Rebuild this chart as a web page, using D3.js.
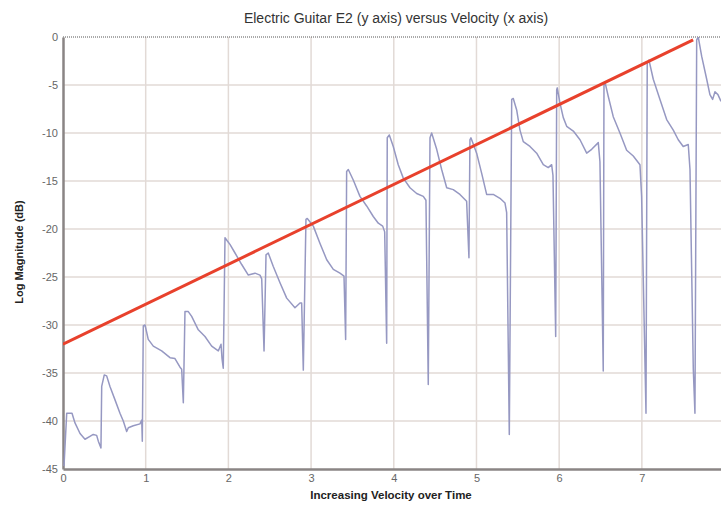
<!DOCTYPE html>
<html>
<head>
<meta charset="utf-8">
<script src="https://cdn.jsdelivr.net/npm/d3@7"></script>
<style>
  body { margin: 0; background: #fff; }
  svg { display: block; font-family: "Liberation Sans", Arial, sans-serif; }
</style>
</head>
<body>
<div id="chart"></div>
<script>
/** Data */

var velocity = [
  0.012, 0.045, 0.109, 0.145, 0.206, 0.266, 0.326, 0.366, 0.407, 0.427, 0.459,
  0.468, 0.499, 0.528, 0.568, 0.629, 0.689, 0.729, 0.770, 0.790, 0.850, 0.931, 0.952, 0.959,
  0.971, 0.992, 1.031, 1.092, 1.193, 1.294, 1.354, 1.415, 1.435, 1.455,
  1.475, 1.515, 1.556, 1.636, 1.717, 1.798, 1.878, 1.911, 1.923, 1.938,
  1.959, 1.983, 2.019, 2.080, 2.161, 2.241, 2.322, 2.382, 2.403, 2.431,
  2.455, 2.482, 2.543, 2.624, 2.705, 2.805, 2.866, 2.886, 2.906,
  2.938, 2.954, 3.027, 3.108, 3.189, 3.269, 3.349, 3.398, 3.418,
  3.430, 3.450, 3.510, 3.591, 3.672, 3.752, 3.813, 3.866, 3.890, 3.914,
  3.921, 3.946, 3.994, 4.054, 4.115, 4.196, 4.277, 4.357, 4.389, 4.417,
  4.438, 4.458, 4.519, 4.579, 4.640, 4.719, 4.800, 4.881, 4.909,
  4.921, 4.933, 5.002, 5.063, 5.123, 5.203, 5.284, 5.345, 5.365, 5.397,
  5.426, 5.445, 5.486, 5.526, 5.566, 5.647, 5.728, 5.808, 5.868, 5.909, 5.925, 5.958,
  5.970, 5.977, 6.010, 6.050, 6.091, 6.171, 6.252, 6.333, 6.393, 6.473, 6.493, 6.533,
  6.542, 6.557, 6.594, 6.654, 6.735, 6.816, 6.896, 6.977, 6.997, 7.050,
  7.065, 7.086, 7.138, 7.219, 7.300, 7.380, 7.440, 7.500, 7.561, 7.582, 7.622, 7.642,
  7.663, 7.682, 7.723, 7.784, 7.823, 7.856, 7.884, 7.920, 7.957
];

var magnitudeDb = [
  -44.7, -39.2, -39.2, -40.2, -41.3, -41.9, -41.6, -41.4, -41.5, -42.1, -42.8,
  -36.4, -35.2, -35.3, -36.4, -37.8, -39.2, -40.0, -41.1, -40.7, -40.5, -40.3, -39.9, -42.1,
  -30.1, -30.0, -31.5, -32.2, -32.7, -33.4, -33.5, -34.4, -34.6, -38.1,
  -28.6, -28.6, -29.1, -30.5, -31.2, -32.2, -32.7, -32.0, -33.5, -34.5,
  -20.9, -21.2, -21.6, -22.5, -23.7, -24.8, -24.6, -24.8, -25.2, -32.7,
  -22.7, -22.5, -23.9, -25.6, -27.2, -28.2, -27.7, -27.7, -34.7,
  -19.0, -18.9, -19.7, -21.5, -23.2, -24.2, -24.6, -24.9, -31.5,
  -14.0, -13.8, -14.9, -16.6, -17.6, -18.7, -19.4, -19.7, -20.3, -31.9,
  -10.5, -10.2, -11.4, -13.3, -14.7, -15.7, -16.3, -16.6, -17.0, -36.2,
  -10.5, -10.0, -11.7, -13.8, -15.7, -15.9, -16.4, -17.1, -23.0,
  -10.7, -10.5, -12.1, -14.2, -16.4, -16.4, -16.8, -17.3, -18.3, -41.4,
  -6.5, -6.4, -7.6, -9.7, -10.9, -11.4, -12.1, -13.3, -13.6, -13.3, -14.4, -31.2,
  -5.5, -5.3, -6.9, -8.4, -9.3, -9.8, -10.7, -12.1, -11.7, -11.0, -13.0, -34.8,
  -5.0, -4.8, -6.2, -8.3, -10.0, -11.8, -12.4, -13.3, -16.6, -39.2,
  -2.7, -2.4, -4.4, -6.5, -8.6, -9.7, -10.7, -11.4, -11.2, -13.8, -34.6, -39.2,
  -0.3, 0.0, -2.0, -4.4, -6.0, -6.5, -5.7, -6.0, -6.7
];

// trend line (red)
var trendVelocity = [0, 7.62];
var trendDb = [-32, -0.3];

var xTicks = [0, 1, 2, 3, 4, 5, 6, 7];
var yTicks = [0, -5, -10, -15, -20, -25, -30, -35, -40, -45];

var titleText = "Electric Guitar E2 (y axis) versus Velocity (x axis)";
var xLabel = "Increasing Velocity over Time";
var yLabel = "Log Magnitude (dB)";

/** Layout */

var W = 721, H = 505;
var margin = {top: 37, right: 0, bottom: 36, left: 63};
var width = W - margin.left - margin.right;
var height = H - margin.top - margin.bottom;

var svg = d3.select("#chart").append("svg")
  .attr("width", W)
  .attr("height", H);

var g = svg.append("g")
  .attr("transform", "translate(" + margin.left + "," + margin.top + ")");

var x = d3.scaleLinear().domain([0, 7.957]).range([0, width]);
var y = d3.scaleLinear().domain([-45, 0]).range([height, 0]);

// grid
g.append("g")
  .selectAll("line")
  .data(xTicks.filter(function(d) { return d > 0; }))
  .enter().append("line")
    .attr("x1", function(d) { return x(d); })
    .attr("x2", function(d) { return x(d); })
    .attr("y1", 0)
    .attr("y2", height)
    .attr("stroke", "#e2dad6")
    .attr("stroke-width", 1.5);

g.append("g")
  .selectAll("line")
  .data(yTicks.filter(function(d) { return d < 0 && d > -45; }))
  .enter().append("line")
    .attr("x1", 0)
    .attr("x2", width)
    .attr("y1", function(d) { return y(d); })
    .attr("y2", function(d) { return y(d); })
    .attr("stroke", "#e2dad6")
    .attr("stroke-width", 1.5);

// dotted top border
g.append("line")
  .attr("x1", 0).attr("x2", width)
  .attr("y1", y(0)).attr("y2", y(0))
  .attr("stroke", "#555")
  .attr("stroke-width", 1)
  .attr("stroke-dasharray", "1,1");

// axes (plain hyphen for negatives, like the original)
var fmt = function(d) { return String(d); };

var xAxis = g.append("g")
  .attr("transform", "translate(0," + height + ")")
  .call(d3.axisBottom(x).tickValues(xTicks).tickSize(0).tickPadding(5).tickFormat(fmt));
xAxis.select(".domain").attr("stroke", "#8a8584").attr("stroke-width", 2.5);

var yAxis = g.append("g")
  .call(d3.axisLeft(y).tickValues(yTicks).tickSize(0).tickPadding(5).tickFormat(fmt));
yAxis.select(".domain").attr("stroke", "#8a8584").attr("stroke-width", 2.5);

g.selectAll(".tick text")
  .attr("fill", "#666")
  .style("font-size", "11px");

// curve
var points = velocity.map(function(v, i) { return [v, magnitudeDb[i]]; });

g.append("defs").append("clipPath")
  .attr("id", "clip")
  .append("rect")
    .attr("width", width)
    .attr("height", height);

var plot = g.append("g").attr("clip-path", "url(#clip)");

plot.append("path")
  .datum(points)
  .attr("fill", "none")
  .attr("stroke", "#9698c2")
  .attr("stroke-width", 1.5)
  .attr("stroke-linejoin", "round")
  .attr("d", d3.line()
    .x(function(d) { return x(d[0]); })
    .y(function(d) { return y(d[1]); })
  );

plot.append("path")
  .datum(trendVelocity.map(function(v, i) { return [v, trendDb[i]]; }))
  .attr("fill", "none")
  .attr("stroke", "#e8412c")
  .attr("stroke-width", 3)
  .attr("d", d3.line()
    .x(function(d) { return x(d[0]); })
    .y(function(d) { return y(d[1]); })
  );

// labels
svg.append("text")
  .attr("x", 396)
  .attr("y", 23)
  .attr("text-anchor", "middle")
  .attr("fill", "#333")
  .style("font-size", "14px")
  .text(titleText);

svg.append("text")
  .attr("x", 391)
  .attr("y", 499)
  .attr("text-anchor", "middle")
  .attr("fill", "#222")
  .style("font-size", "11.5px")
  .style("font-weight", "bold")
  .text(xLabel);

svg.append("text")
  .attr("transform", "translate(23,252) rotate(-90)")
  .attr("text-anchor", "middle")
  .attr("fill", "#222")
  .style("font-size", "11px")
  .style("font-weight", "bold")
  .text(yLabel);
</script>
</body>
</html>
